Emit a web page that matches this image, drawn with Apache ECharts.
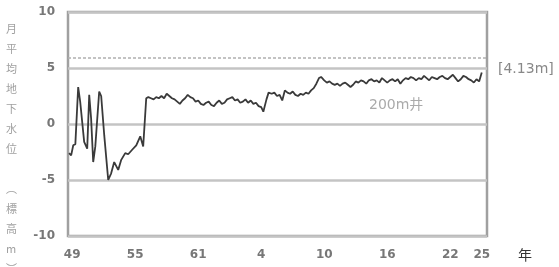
<!DOCTYPE html>
<html>
<head>
<meta charset="utf-8">
<script src="https://cdn.jsdelivr.net/npm/echarts@6/dist/echarts.min.js"></script>
<style>
html, body { margin: 0; padding: 0; background: #fff; }
#main { width: 559px; height: 267px; }
</style>
</head>
<body>
<div id="main"></div>
<script>
// 年（西暦換算）と月平均地下水位
var years = [1973.7, 1973.9, 1974.1, 1974.3, 1974.57, 1974.76, 1975.14, 1975.43, 1975.62, 1975.8,
	1976.0, 1976.2, 1976.57, 1976.76, 1977.05, 1977.43, 1977.71, 1978.0, 1978.38, 1978.67,
	1979.05, 1979.33, 1979.71, 1980.1, 1980.48, 1980.76, 1981.05,
	1981.25, 1981.5, 1981.75, 1982.0, 1982.25, 1982.5, 1982.75, 1983.0, 1983.25, 1983.5,
	1983.75, 1984.0, 1984.25, 1984.5, 1984.75, 1985.0, 1985.25, 1985.5, 1985.75, 1986.0,
	1986.25, 1986.5, 1986.75, 1987.0, 1987.25, 1987.5, 1987.75, 1988.0, 1988.25, 1988.5,
	1988.75, 1989.0, 1989.25, 1989.5, 1989.75, 1990.0, 1990.25, 1990.5, 1990.75, 1991.0,
	1991.25, 1991.5, 1991.75, 1992.0, 1992.2, 1992.5, 1992.7, 1993.0, 1993.25, 1993.5,
	1993.75, 1994.0, 1994.25, 1994.5, 1994.75, 1995.0, 1995.25, 1995.5, 1995.75, 1996.0,
	1996.25, 1996.5, 1996.75, 1997.0, 1997.25, 1997.5, 1997.7, 1998.0, 1998.25, 1998.5,
	1998.75, 1999.0, 1999.25, 1999.5, 1999.75, 2000.0, 2000.25, 2000.5, 2000.75, 2001.0,
	2001.25, 2001.5, 2001.75, 2002.0, 2002.25, 2002.5, 2002.75, 2003.0, 2003.25, 2003.5,
	2003.75, 2004.0, 2004.25, 2004.5, 2004.75, 2005.0, 2005.25, 2005.5, 2005.75, 2006.0,
	2006.25, 2006.5, 2006.75, 2007.0, 2007.25, 2007.5, 2007.75, 2008.0, 2008.25, 2008.5,
	2008.75, 2009.0, 2009.25, 2009.5, 2009.75, 2010.0, 2010.25, 2010.5, 2010.75, 2011.0,
	2011.25, 2011.5, 2011.75, 2012.0, 2012.25, 2012.5, 2012.75, 2013.0];
var levels = [-2.6, -2.8, -1.9, -1.8, 3.3, 2.0, -1.6, -2.2, 2.6, 0.5,
	-3.4, -2.0, 2.9, 2.5, -1.0, -5.0, -4.4, -3.4, -4.1, -3.2,
	-2.6, -2.7, -2.3, -1.9, -1.1, -2.0, 2.3,
	2.4, 2.3, 2.2, 2.4, 2.3, 2.5, 2.3, 2.7, 2.5, 2.3,
	2.2, 2.0, 1.8, 2.1, 2.3, 2.6, 2.4, 2.3, 2.0, 2.1,
	1.8, 1.7, 1.9, 2.0, 1.7, 1.6, 1.9, 2.1, 1.8, 1.9,
	2.2, 2.3, 2.4, 2.1, 2.2, 1.9, 2.0, 2.2, 1.9, 2.1,
	1.8, 1.9, 1.6, 1.5, 1.1, 2.2, 2.8, 2.7, 2.8, 2.5,
	2.6, 2.1, 3.0, 2.8, 2.7, 2.9, 2.6, 2.5, 2.7, 2.6,
	2.8, 2.7, 3.0, 3.2, 3.6, 4.1, 4.2, 3.9, 3.7, 3.8,
	3.6, 3.5, 3.6, 3.4, 3.6, 3.7, 3.5, 3.3, 3.5, 3.8,
	3.7, 3.9, 3.8, 3.6, 3.9, 4.0, 3.8, 3.9, 3.7, 4.1,
	3.9, 3.7, 3.9, 4.0, 3.8, 4.0, 3.6, 3.9, 4.1, 4.0,
	4.2, 4.1, 3.9, 4.1, 4.0, 4.3, 4.1, 3.9, 4.2, 4.1,
	4.0, 4.2, 4.3, 4.1, 4.0, 4.2, 4.4, 4.1, 3.8, 4.0,
	4.3, 4.2, 4.0, 3.9, 3.7, 4.0, 3.8, 4.6];

// 目盛（昭和・平成）
var tickYears = [1974, 1980, 1986, 1992, 1998, 2004, 2010, 2013];
var tickLabels = ['49', '55', '61', '4', '10', '16', '22', '25'];
var refLevel = 5.9;

var chart = echarts.init(document.getElementById('main'));

var lineData = years.map(function(y, i) { return [y, levels[i]]; });

var yTitle = ['月', '平', '均', '地', '下', '水', '位', '　', '︵', '標', '高', 'm', '︶'];

var option = {
	animation: false,
	textStyle: { fontFamily: '"DejaVu Sans", "Noto Sans CJK JP", sans-serif' },
	grid: {
		left: 68, right: 72, top: 12, bottom: 31,
		show: true,
		borderColor: '#a0a0a0',
		borderWidth: 2.5,
		backgroundColor: '#fff'
	},
	xAxis: {
		type: 'value',
		min: 1973.6,
		max: 2013.5,
		axisLine: { show: false },
		axisTick: { show: false },
		splitLine: { show: false },
		axisLabel: {
			customValues: tickYears,
			margin: 13,
			color: '#777',
			fontSize: 12,
			fontWeight: 'bold',
			formatter: function(v) {
				var i = tickYears.indexOf(v);
				return i >= 0 ? tickLabels[i] : '';
			}
		}
	},
	yAxis: {
		type: 'value',
		min: -10,
		max: 10,
		interval: 5,
		axisLine: { show: false },
		axisTick: { show: false },
		axisLabel: { color: '#777', fontSize: 12, fontWeight: 'bold', margin: 13 },
		splitLine: { lineStyle: { color: '#c4c4c4', width: 2.5 } }
	},
	series: [{
		type: 'line',
		data: lineData,
		symbol: 'none',
		lineStyle: { color: '#3a3a3a', width: 1.8 },
		markLine: {
			silent: true,
			symbol: 'none',
			label: { show: false },
			lineStyle: { color: '#b0b0b0', type: [3, 2], width: 1.5 },
			data: [{ yAxis: refLevel }]
		}
	}],
	graphic: [
		{
			type: 'text', left: 6, top: 19,
			style: {
				text: yTitle.join('\n'),
				fill: '#a0a0a0', fontSize: 11, lineHeight: 20,
				fontFamily: '"Noto Sans CJK JP", sans-serif',
				align: 'center'
			}
		},
		{
			type: 'text', left: 498, top: 62,
			style: { text: '[4.13m]', fill: '#888', fontSize: 14, fontFamily: '"DejaVu Sans", sans-serif' }
		},
		{
			type: 'text', left: 369, top: 98,
			style: { text: '200m井', fill: '#aaa', fontSize: 14, fontFamily: '"DejaVu Sans", "Noto Sans CJK JP", sans-serif' }
		},
		{
			type: 'text', left: 518, top: 248,
			style: { text: '年', fill: '#333', fontSize: 14, fontFamily: '"Noto Sans CJK JP", sans-serif' }
		}
	]
};

chart.setOption(option);
</script>
</body>
</html>
